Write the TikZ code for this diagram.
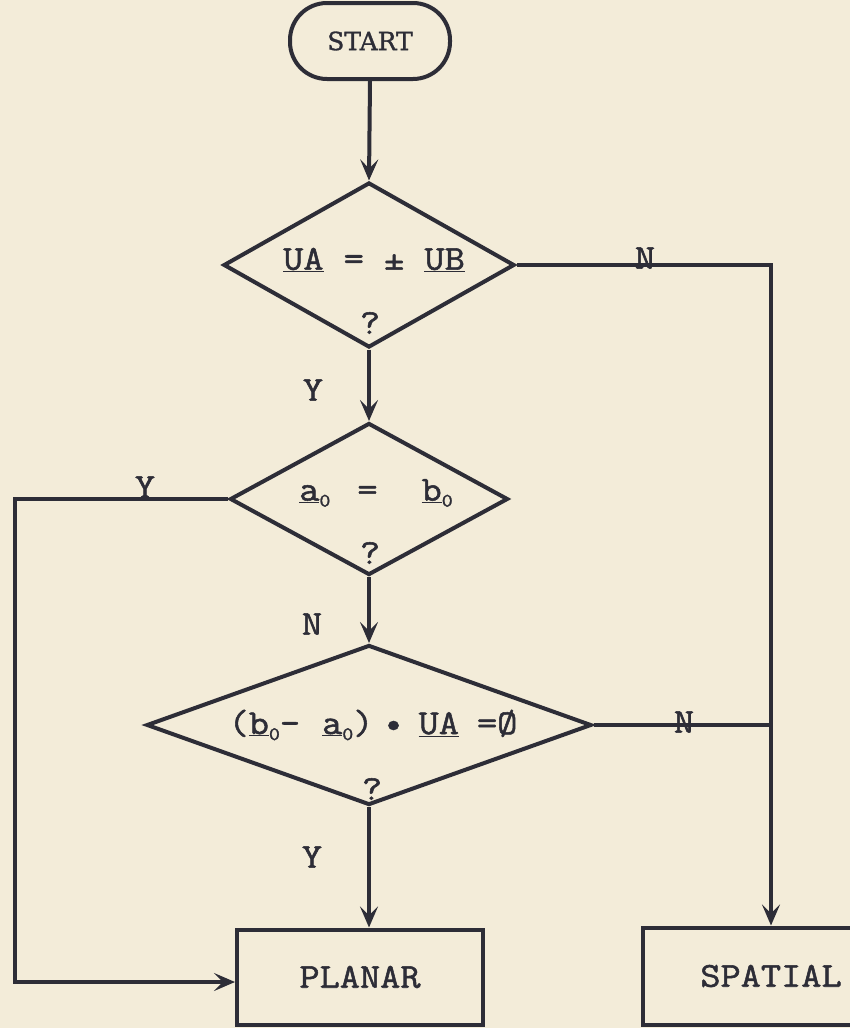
\documentclass[tikz,border=0pt]{standalone}
\usepackage{fontspec}
\setmonofont{Latin Modern Mono}[FakeStretch=1.12,FakeBold=1.5]
\newfontfamily\startfont{DejaVu Serif}[FakeBold=1.2]
\usetikzlibrary{shapes.geometric,arrows.meta}
\definecolor{bg}{RGB}{243,236,217}
\definecolor{ink}{RGB}{45,45,55}
\newcommand\sbz[1]{\raisebox{-6pt}{\fontsize{19}{19}\selectfont #1}}
\begin{document}
\begin{tikzpicture}[x=1pt,y=-1pt,
  line/.style={draw=ink,line width=4pt},
  arr/.style={line,-{Stealth[length=21pt,width=18pt,inset=9pt]}},
  txt/.style={text=ink,font=\fontsize{35}{38}\selectfont\ttfamily,inner sep=0pt},
  dia/.style={diamond,draw=ink,line width=4pt,inner sep=0pt},
  boxn/.style={rectangle,draw=ink,line width=4pt,text=ink,font=\fontsize{35}{38}\selectfont\ttfamily},
]
\fill[bg] (0,0) rectangle (850,1028);
\useasboundingbox (0,0) rectangle (850,1028);
\clip (0,0) rectangle (850,1028);

\node[rectangle,rounded corners=37pt,draw=ink,line width=4pt,minimum width=160pt,minimum height=76pt,text=ink,font=\startfont\fontsize{25}{28}\selectfont]
  (start) at (370,41) {START};

\node[dia,minimum width=291pt,minimum height=165pt] (d1) at (369,265) {};
\node[txt] (t1) at (374,260) {\underline{UA} = ± \underline{UB}};
\node[txt] (q1) at (370,323) {?};

\node[dia,minimum width=278pt,minimum height=152pt] (d2) at (369,499) {};
\node[txt] (t2) at (376,493) {\underline{a}\sbz{0}\hspace{27pt}=\hspace{44pt}\underline{b}\sbz{0}};
\node[txt] (q2) at (370,553) {?};

\node[dia,minimum width=445pt,minimum height=160pt] (d3) at (369,725) {};
\node[txt] (t3) at (373,725) {(\underline{b}\sbz{0}-\hspace{22pt}\underline{a}\sbz{0})\hspace{10pt}•\hspace{15pt}\underline{UA}\hspace{18pt}=Ø};
\node[txt] (q3) at (372,789) {?};

\node[boxn,minimum width=246pt,minimum height=95pt] (planar) at (360,977) {PLANAR};
\node[boxn,minimum width=256pt,minimum height=97pt] (spatial) at (771,976) {SPATIAL};

\coordinate (lx) at (15,0);

\draw[arr] (start.south) -- (d1.north);
\draw[arr] (d1.south) -- (d2.north);
\draw[arr] (d2.south) -- (d3.north);
\draw[arr] (d3.south) -- (d3.south |- planar.north);
\draw[arr] (d1.east) -| (spatial.north);
\draw[line] (d3.east) -- (d3.east -| spatial.north);
\draw[arr] (d2.west) -- (d2.west -| lx) |- ([yshift=-5pt]planar.west);

\node[txt] (ly1) at (313,390) {Y};
\node[txt] (ln1) at (645,258) {N};
\node[txt] (ly2) at (145,487) {Y};
\node[txt] (ln2) at (312,624) {N};
\node[txt] (ln3) at (684,722) {N};
\node[txt] (ly3) at (312,857) {Y};
\end{tikzpicture}
\end{document}
